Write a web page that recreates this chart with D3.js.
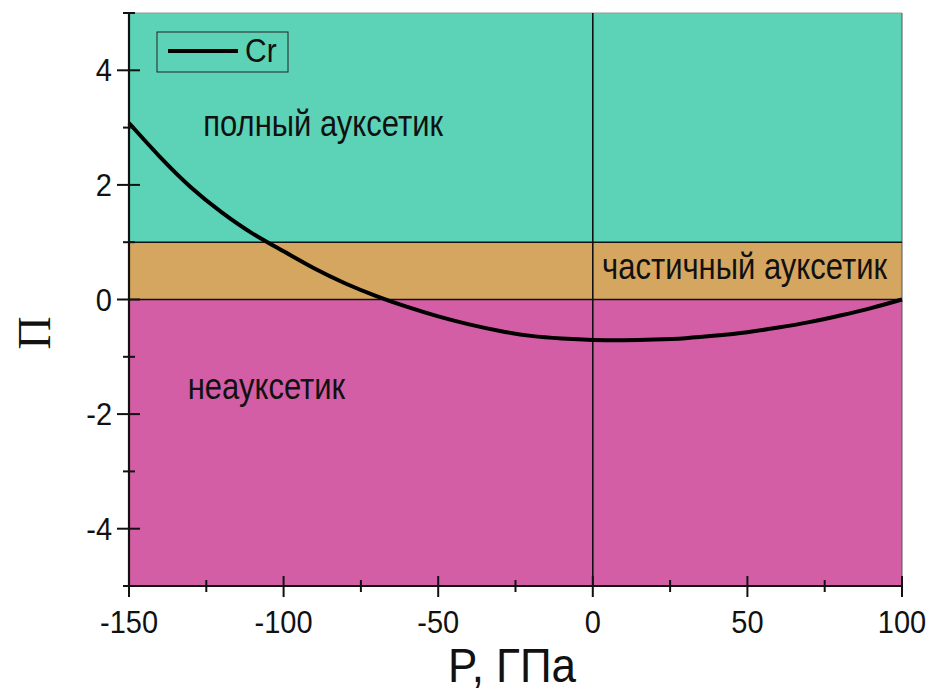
<html>
<head>
  <script src="https://cdnjs.cloudflare.com/ajax/libs/d3/7.8.5/d3.min.js"></script>
  <meta charset="utf-8">
  <title>Cr</title>
<style>
body {
  margin: 0;
  background: #fff;
}
svg {
  background: #fff;
  font-family: "Liberation Sans", Arial, sans-serif;
}
</style>
</head>
<body>
<script>
var width = 932,
    height = 691;

// curve Cr : pressure (GPa) -> П
var pressure = [-150, -140, -130, -120, -110, -100, -90, -80, -70, -60, -50, -40, -30,
                -20, -10, 0, 10, 20, 30, 40, 50, 60, 70, 80, 90, 100];
var piValues = [3.08, 2.49, 1.96, 1.52, 1.15, 0.84, 0.54, 0.28, 0.06, -0.13, -0.295, -0.435, -0.55,
                -0.635, -0.68, -0.705, -0.712, -0.70, -0.675, -0.63, -0.57, -0.49, -0.395, -0.28, -0.15, 0.00];

// regions (П ranges)
var zoneNames = ['полный ауксетик', 'частичный ауксетик', 'неауксетик'];
var zoneFrom = [1, 0, -5];
var zoneTo = [5, 1, 0];
var zoneColors = ['#5cd3b6', '#d4a660', '#d45ea5'];

var xTicks = [-150, -100, -50, 0, 50, 100];
var xMinor = [-125, -75, -25, 25, 75];
var yTicks = [-4, -2, 0, 2, 4];
var yMinor = [-5, -3, -1, 1, 3, 5];

var pLeft = 129, pRight = 902, pTop = 13, pBottom = 586;

var x = d3.scaleLinear().domain([-150, 100]).range([pLeft, pRight]);
var y = d3.scaleLinear().domain([-5, 5]).range([pBottom, pTop]);

var svg = d3.select('body').append('svg')
  .attr('width', width)
  .attr('height', height);

// colored zones
svg.selectAll('rect.zone')
  .data(zoneNames)
  .enter()
  .append('rect')
  .attr('class', 'zone')
  .attr('x', x(-150))
  .attr('width', x(100) - x(-150))
  .attr('y', function (d, i) { return y(zoneTo[i]); })
  .attr('height', function (d, i) { return y(zoneFrom[i]) - y(zoneTo[i]); })
  .style('fill', function (d, i) { return zoneColors[i]; });

// frame hints at top and right
svg.append('line')
  .attr('x1', x(-150)).attr('x2', x(100))
  .attr('y1', y(5)).attr('y2', y(5))
  .style('stroke', '#999').style('stroke-width', 1);
svg.append('line')
  .attr('x1', x(100)).attr('x2', x(100))
  .attr('y1', y(5)).attr('y2', y(-5))
  .style('stroke', '#555').style('stroke-width', 1);

// boundaries between zones
[0, 1].forEach(function (v) {
  svg.append('line')
    .attr('x1', x(-150)).attr('x2', x(100))
    .attr('y1', y(v)).attr('y2', y(v))
    .style('stroke', '#111').style('stroke-width', 1.6);
});
svg.append('line')
  .attr('x1', x(0)).attr('x2', x(0))
  .attr('y1', y(5)).attr('y2', y(-5))
  .style('stroke', '#111').style('stroke-width', 1.6);

// zone labels
var labelPos = [[-126, 136], [3, 279], [-131, 399]];
svg.selectAll('text.zone')
  .data(zoneNames)
  .enter()
  .append('text')
  .attr('class', 'zone')
  .attr('transform', function (d, i) {
    return 'translate(' + x(labelPos[i][0]) + ',' + labelPos[i][1] + ') scale(1,1.2)';
  })
  .style('font-size', '31px')
  .style('fill', '#111')
  .text(function (d) { return d; });

// curve
var pts = pressure.map(function (p, i) { return [p, piValues[i]]; });
var line = d3.line()
  .x(function (d) { return x(d[0]); })
  .y(function (d) { return y(d[1]); })
  .curve(d3.curveNatural);
svg.append('path')
  .datum(pts)
  .attr('d', line)
  .style('fill', 'none')
  .style('stroke', '#000')
  .style('stroke-width', 4);

// axes
var xAxis = svg.append('g').attr('transform', 'translate(0,' + pBottom + ')');
xAxis.append('line').attr('x1', pLeft - 1).attr('x2', pRight + 1)
  .style('stroke', '#111').style('stroke-width', 2.2);
xAxis.selectAll('line.major').data(xTicks).enter().append('line')
  .attr('x1', x).attr('x2', x).attr('y1', -10).attr('y2', 11)
  .style('stroke', '#111').style('stroke-width', 2);
xAxis.selectAll('line.minor').data(xMinor).enter().append('line')
  .attr('x1', x).attr('x2', x).attr('y1', -6).attr('y2', 6)
  .style('stroke', '#111').style('stroke-width', 2);
xAxis.selectAll('text').data(xTicks).enter().append('text')
  .attr('transform', function (d) { return 'translate(' + x(d) + ',47) scale(1,1.1)'; })
  .attr('text-anchor', 'middle')
  .style('font-size', '29px')
  .style('fill', '#111')
  .text(function (d) { return d; });

var yAxis = svg.append('g').attr('transform', 'translate(' + pLeft + ',0)');
yAxis.append('line').attr('y1', pTop - 1).attr('y2', pBottom + 1)
  .style('stroke', '#111').style('stroke-width', 2.2);
yAxis.selectAll('line.major').data(yTicks).enter().append('line')
  .attr('y1', y).attr('y2', y).attr('x1', -12).attr('x2', 11)
  .style('stroke', '#111').style('stroke-width', 2);
yAxis.selectAll('line.minor').data(yMinor).enter().append('line')
  .attr('y1', y).attr('y2', y).attr('x1', -6).attr('x2', 6)
  .style('stroke', '#111').style('stroke-width', 2);
yAxis.selectAll('text').data(yTicks).enter().append('text')
  .attr('transform', function (d) { return 'translate(-17,' + (y(d) + 11) + ') scale(1,1.1)'; })
  .attr('text-anchor', 'end')
  .style('font-size', '29px')
  .style('fill', '#111')
  .text(function (d) { return d; });

// axis titles
svg.append('text')
  .attr('transform', 'translate(512,682) scale(1,1.1)')
  .attr('text-anchor', 'middle')
  .style('font-size', '44px')
  .style('fill', '#111')
  .text('P, ГПа');
svg.append('text')
  .attr('transform', 'translate(50,333) rotate(-90)')
  .attr('text-anchor', 'middle')
  .style('font-family', '"Liberation Serif", "Times New Roman", serif')
  .style('font-size', '46px')
  .style('fill', '#111')
  .text('П');

// legend
var legend = svg.append('g').attr('transform', 'translate(157,32)');
legend.append('rect')
  .attr('width', 131).attr('height', 40)
  .style('fill', 'none').style('stroke', '#222').style('stroke-width', 1);
legend.append('line')
  .attr('x1', 11).attr('x2', 81).attr('y1', 19).attr('y2', 19)
  .style('stroke', '#000').style('stroke-width', 4);
legend.append('text')
  .attr('transform', 'translate(88,30) scale(1,1.1)')
  .style('font-size', '30px')
  .style('fill', '#111')
  .text('Cr');
</script>
</body>
</html>
